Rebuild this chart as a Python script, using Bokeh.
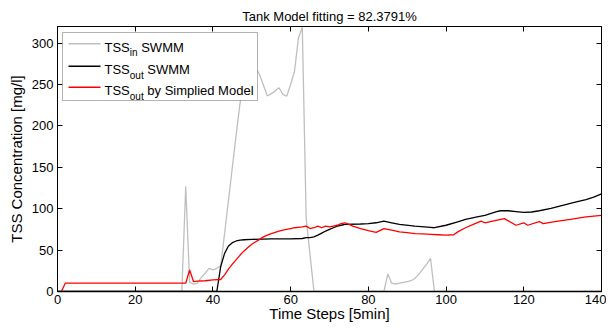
from bokeh.plotting import figure
from bokeh.models import Range1d, FixedTicker, LinearAxis, Label, BoxAnnotation
from bokeh.embed import file_html
from bokeh.resources import INLINE

# ---- data ----
tss_in_x = [0, 32, 33, 34, 35, 36, 37, 38, 39, 40, 41, 42, 43, 44, 45, 46, 47, 48, 49, 50,
            51, 52, 53, 54, 55, 56, 57, 58, 59, 60, 61, 62, 63, 64, 65, 66, 84, 85, 86, 87,
            88, 89, 90, 91, 92, 93, 94, 95, 96, 97, 140]
tss_in_y = [0, 0, 127, 11, 9, 10, 17, 22, 28, 26, 28, 31, 70, 110, 150, 190, 228, 258, 270, 272,
            270, 262, 249, 236, 239, 242, 246, 238, 236, 250, 266, 306, 319, 88, 44, 0, 0, 21, 10, 9,
            10, 11, 12, 13, 16, 21, 27, 33, 40, 0, 0]

tss_out_x = [0, 41, 42, 43, 44, 45, 46, 47, 48, 50, 55, 60, 63, 64, 65, 66, 67, 68, 69, 70,
             71, 72, 73, 74, 78, 80, 82, 84, 86, 88, 92, 96, 97, 100, 103, 105, 108, 110, 112, 113,
             114, 116, 118, 120, 122, 124, 127, 130, 133, 136, 138, 140]
tss_out_y = [0, 0, 30, 46, 55, 59, 61, 62, 62.5, 63, 63.5, 63.5, 64, 65, 65, 66, 68, 70.5, 73, 75,
             77, 79, 80, 81, 81.5, 82, 83, 85, 83, 81, 79, 77.5, 77, 80, 84, 87, 90, 92, 95, 96.5,
             97.5, 97.5, 96.5, 95.5, 96, 97.5, 100.5, 104, 107.5, 111, 114, 118]

model_x = [1, 2, 33, 34, 35, 36, 38, 40, 42, 43, 44, 45, 46, 47, 48, 49, 50, 51, 52, 53,
           54, 55, 56, 57, 58, 59, 60, 61, 62, 63, 64, 65, 66, 67, 68, 69, 70, 71, 72, 73,
           74, 75, 76, 78, 80, 82, 84, 86, 88, 90, 92, 94, 96, 98, 100, 102, 103, 105, 107, 109,
           110, 112, 115, 118, 120, 121, 124, 125, 128, 132, 136, 140]
model_y = [0, 10, 10, 26, 12, 12.5, 13, 14, 14.5, 20, 27, 33, 38.5, 44, 49, 53, 57, 60, 63, 66,
           68, 70, 71.5, 73, 74, 75, 76, 77, 77.5, 78, 79, 76, 77, 79, 77, 79, 78, 79, 80, 82,
           83, 81, 79, 76, 73.5, 71.5, 76, 74, 72, 71, 70, 69.5, 69, 68.5, 68, 68.5, 72, 77, 81, 85,
           83, 85, 88, 80, 83, 80, 84.5, 82, 84.5, 87, 90, 92]

x_ticks = [0, 20, 40, 60, 80, 100, 120, 140]
y_ticks = [0, 50, 100, 150, 200, 250, 300]

title_text = "Tank Model fitting = 82.3791%"
x_label = "Time Steps [5min]"
y_label = "TSS Concentration [mg/l]"

GRAY = "#bfbfbf"
FONT = "Liberation Sans"

W, H = 606, 326
BL, BT = 57, 26
BR = W - 601
BB = H - 291
FW, FH = W - BL - BR, H - BT - BB

p = figure(width=W, height=H, output_backend="svg", toolbar_location=None,
           x_range=Range1d(0, 140), y_range=Range1d(0, 320),
           min_border_left=BL, min_border_right=BR, min_border_top=BT, min_border_bottom=BB)
p.background_fill_color = "white"
p.border_fill_color = "white"
p.outline_line_color = "black"
p.outline_line_width = 1
p.grid.visible = False

p.title.text = title_text
p.title.text_font = FONT
p.title.text_font_size = "13px"
p.title.text_font_style = "normal"
p.title.text_color = "black"
p.title.align = "center"
p.title.standoff = 6

p.line(tss_in_x, tss_in_y, line_color=GRAY, line_width=1.3)
p.line(tss_out_x, tss_out_y, line_color="black", line_width=1.3)
p.line(model_x, model_y, line_color="#ff0000", line_width=1.3)


def style_axis(ax, ticks, labels=True):
    ax.ticker = FixedTicker(ticks=ticks)
    ax.minor_tick_line_color = None
    ax.major_tick_in = 5
    ax.major_tick_out = 0
    ax.major_tick_line_color = "black"
    ax.axis_line_color = "black"
    ax.major_label_text_font = FONT
    ax.major_label_text_color = "black"
    ax.major_label_text_font_size = "13px"
    ax.axis_label_text_font = FONT
    ax.axis_label_text_font_size = "15px"
    ax.axis_label_text_font_style = "normal"
    ax.axis_label_text_color = "black"
    if not labels:
        ax.major_label_overrides = {t: "" for t in ticks}
        ax.major_label_standoff = 0


style_axis(p.xaxis[0], x_ticks)
p.xaxis[0].major_label_standoff = 3
p.xaxis[0].axis_label = x_label
p.xaxis[0].axis_label_standoff = -2
p.xaxis[0].axis_line_width = 1.5
style_axis(p.yaxis[0], y_ticks)
p.yaxis[0].major_label_standoff = 4
p.yaxis[0].axis_label = y_label
p.yaxis[0].axis_label_standoff = 4

top_ax = LinearAxis()
style_axis(top_ax, x_ticks, labels=False)
p.add_layout(top_ax, "above")
right_ax = LinearAxis()
style_axis(right_ax, y_ticks, labels=False)
p.add_layout(right_ax, "right")

# custom legend (subscripted labels), screen units relative to the frame
p.add_layout(BoxAnnotation(left=5, right=200, top=FH - 6, bottom=FH - 74,
                           left_units="screen", right_units="screen",
                           top_units="screen", bottom_units="screen",
                           fill_color="white", fill_alpha=1.0,
                           line_color="black", line_width=1, level="annotation"))

rows = [
    (GRAY, "in", "SWMM", 17.3),
    ("black", "out", "SWMM", 39.7),
    ("#ff0000", "out", "by Simplied Model", 60.7),
]
for color, sub, rest, dy in rows:
    ly = FH - dy
    p.add_layout(BoxAnnotation(left=11, right=43, top=ly + 0.7, bottom=ly - 0.7,
                               left_units="screen", right_units="screen",
                               top_units="screen", bottom_units="screen",
                               fill_color=color, fill_alpha=1.0, line_color=None))
    base = ly - 3.5
    p.add_layout(Label(x=47, y=base, x_units="screen", y_units="screen", text="TSS",
                       text_font=FONT, text_font_size="13px", text_baseline="alphabetic",
                       text_color="black"))
    sub_w = 7.8 if sub == "in" else 13.9
    p.add_layout(Label(x=72.3, y=base - 5.5, x_units="screen", y_units="screen", text=sub,
                       text_font=FONT, text_font_size="10px", text_baseline="alphabetic",
                       text_color="black"))
    p.add_layout(Label(x=72.3 + sub_w + 3.6, y=base, x_units="screen", y_units="screen", text=rest,
                       text_font=FONT, text_font_size="13px", text_baseline="alphabetic",
                       text_color="black"))

open("out.html", "w").write(file_html(p, INLINE))
